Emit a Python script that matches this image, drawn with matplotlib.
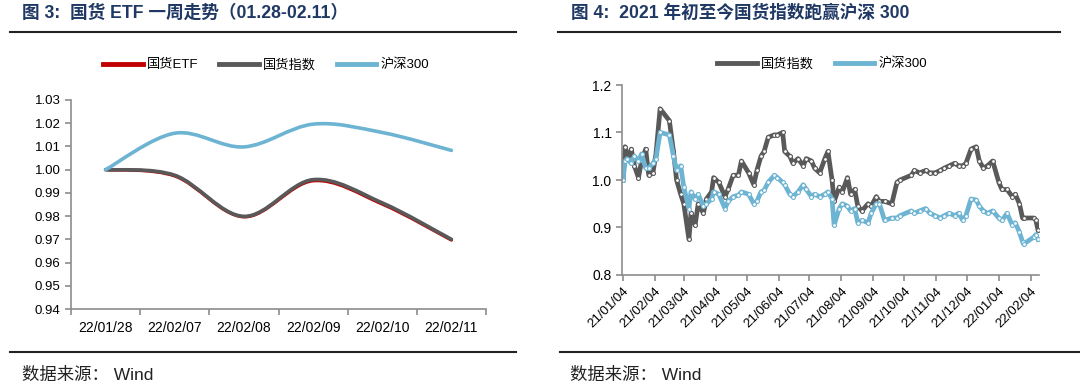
import numpy as np
import pandas as pd
import matplotlib
matplotlib.use('Agg')
import matplotlib.pyplot as plt
import matplotlib.dates as mdates
from matplotlib.path import Path
from matplotlib.patches import PathPatch
from matplotlib.lines import Line2D

plt.rcParams['font.family'] = ['Liberation Sans', 'Noto Sans CJK SC', 'DejaVu Sans']

# 图3: 一周走势
days_week = ['22/01/28', '22/02/07', '22/02/08', '22/02/09', '22/02/10', '22/02/11']
etf_week = [1.000, 0.9973, 0.9797, 0.9952, 0.9852, 0.9697]
index_week = [1.000, 0.9976, 0.9799, 0.9957, 0.9857, 0.9700]
hs300_week = [1.000, 1.0157, 1.0098, 1.0196, 1.0160, 1.0083]

# 图4: 2021 年初至今
dates_year = ['2021-01-04', '2021-01-06', '2021-01-08', '2021-01-12', '2021-01-15',
              '2021-01-19', '2021-01-22', '2021-01-26', '2021-01-29', '2021-02-02',
              '2021-02-05', '2021-02-09', '2021-02-18', '2021-02-22', '2021-02-25',
              '2021-03-01', '2021-03-04', '2021-03-09', '2021-03-11', '2021-03-15',
              '2021-03-18', '2021-03-23', '2021-03-26', '2021-03-31', '2021-04-02',
              '2021-04-07', '2021-04-13', '2021-04-16', '2021-04-21', '2021-04-26',
              '2021-04-29', '2021-05-06', '2021-05-11', '2021-05-14', '2021-05-18',
              '2021-05-21', '2021-05-25', '2021-05-31', '2021-06-03', '2021-06-08',
              '2021-06-10', '2021-06-15', '2021-06-18', '2021-06-23', '2021-06-28',
              '2021-07-01', '2021-07-06', '2021-07-09', '2021-07-14', '2021-07-19',
              '2021-07-22', '2021-07-26', '2021-07-28', '2021-08-02', '2021-08-05',
              '2021-08-10', '2021-08-13', '2021-08-17', '2021-08-20', '2021-08-24',
              '2021-08-30', '2021-09-02', '2021-09-07', '2021-09-10', '2021-09-15',
              '2021-09-22', '2021-09-27', '2021-09-30', '2021-10-11', '2021-10-14',
              '2021-10-19', '2021-10-25', '2021-10-29', '2021-11-03', '2021-11-08',
              '2021-11-12', '2021-11-17', '2021-11-22', '2021-11-26', '2021-11-30',
              '2021-12-03', '2021-12-08', '2021-12-13', '2021-12-16', '2021-12-20',
              '2021-12-24', '2021-12-29', '2022-01-04', '2022-01-07', '2022-01-12',
              '2022-01-17', '2022-01-20', '2022-01-24', '2022-01-27', '2022-01-28',
              '2022-02-07', '2022-02-09', '2022-02-11']
index_year = [1.000, 1.070, 1.045, 1.065, 1.030, 1.005, 1.040, 1.065, 1.010, 1.015,
              1.055, 1.150, 1.125, 1.060, 1.000, 0.970, 0.950, 0.875, 0.930, 0.905,
              0.950, 0.930, 0.960, 0.975, 1.005, 0.995, 0.965, 0.980, 1.010, 1.010,
              1.040, 1.015, 0.990, 1.020, 1.050, 1.060, 1.090, 1.095, 1.095, 1.100,
              1.060, 1.050, 1.035, 1.045, 1.030, 1.045, 1.040, 1.025, 1.015, 1.045,
              1.060, 1.000, 0.955, 0.985, 0.975, 1.005, 0.970, 0.980, 0.945, 0.935,
              0.950, 0.945, 0.965, 0.955, 0.955, 0.950, 0.995, 1.000, 1.010, 1.020,
              1.015, 1.020, 1.015, 1.015, 1.020, 1.025, 1.030, 1.035, 1.030, 1.030,
              1.035, 1.065, 1.070, 1.040, 1.025, 1.030, 1.040, 0.995, 0.980, 0.980,
              0.965, 0.970, 0.950, 0.920, 0.920, 0.920, 0.915, 0.895]
hs300_year = [1.000, 1.040, 1.045, 1.035, 1.050, 1.040, 1.055, 1.025, 1.025, 1.035,
              1.045, 1.100, 1.095, 1.050, 1.020, 1.030, 0.985, 0.940, 0.975, 0.960,
              0.970, 0.945, 0.950, 0.960, 0.975, 0.970, 0.940, 0.955, 0.965, 0.968,
              0.975, 0.970, 0.950, 0.955, 0.975, 0.978, 0.995, 1.010, 1.005, 0.995,
              0.990, 0.970, 0.965, 0.975, 0.990, 0.980, 0.965, 0.970, 0.965, 0.970,
              0.975, 0.960, 0.905, 0.940, 0.950, 0.945, 0.935, 0.940, 0.910, 0.915,
              0.910, 0.930, 0.950, 0.950, 0.915, 0.920, 0.920, 0.925, 0.935, 0.930,
              0.935, 0.940, 0.930, 0.925, 0.920, 0.925, 0.930, 0.925, 0.930, 0.915,
              0.925, 0.960, 0.958, 0.945, 0.935, 0.930, 0.935, 0.920, 0.915, 0.930,
              0.905, 0.910, 0.890, 0.870, 0.865, 0.880, 0.885, 0.875]

GRAY = '#595959'
BLUE = '#6db4d2'
RED = '#c00000'
NAVY = '#1f3864'
AXC = '#8c8c8c'
W, H = 1080, 388


def px(x):
    return x / W


def py(y):
    return 1 - y / H


def smooth_path(xs, ys):
    # excel 风格的平滑曲线 (贝塞尔)
    pts = np.column_stack([xs, ys]).astype(float)
    n = len(pts)
    verts = [pts[0]]
    codes = [Path.MOVETO]
    for i in range(n - 1):
        p0 = pts[max(i - 1, 0)]
        p1 = pts[i]
        p2 = pts[i + 1]
        p3 = pts[min(i + 2, n - 1)]
        verts += [p1 + (p2 - p0) / 6, p2 - (p3 - p1) / 6, p2]
        codes += [Path.CURVE4] * 3
    return Path(verts, codes)


def style_axes(ax):
    for s in ['top', 'right']:
        ax.spines[s].set_visible(False)
    for s in ['left', 'bottom']:
        ax.spines[s].set_color(AXC)
        ax.spines[s].set_linewidth(1.2)
    ax.tick_params(axis='both', which='major', direction='out', length=4,
                   color=AXC, width=1.2, labelsize=9.5, labelcolor='black')


fig = plt.figure(figsize=(W / 100, H / 100), dpi=100)

# 标题与分隔线
fig.text(px(22), py(13), '图 3:  国货 ETF 一周走势（01.28-02.11）', fontsize=12.7,
         fontweight='bold', color=NAVY, va='center', ha='left',
         family=['Liberation Sans', 'Noto Sans CJK SC'])
fig.text(px(571), py(13), '图 4:  2021 年初至今国货指数跑赢沪深 300', fontsize=12.7,
         fontweight='bold', color=NAVY, va='center', ha='left',
         family=['Liberation Sans', 'Noto Sans CJK SC'])
for x0, x1 in [(10, 516), (558, 1060)]:
    fig.add_artist(Line2D([px(x0), px(x1)], [py(32), py(32)], color='#222222', lw=1.5,
                          transform=fig.transFigure))
for x0, x1 in [(10, 516), (560, 1080)]:
    fig.add_artist(Line2D([px(x0), px(x1)], [py(352), py(352)], color='#222222', lw=1.5,
                          transform=fig.transFigure))
fig.text(px(22), py(375), '数据来源： Wind', fontsize=12.5, color='#222222', va='center')
fig.text(px(570), py(375), '数据来源： Wind', fontsize=12.5, color='#222222', va='center')

# 左图
ax1 = fig.add_axes([px(71), py(309), px(486) - px(71), py(100) - py(309)])
style_axes(ax1)
xs = np.arange(len(days_week))
for vals, c, lw in [(etf_week, RED, 2.4), (index_week, GRAY, 2.6), (hs300_week, BLUE, 2.6)]:
    ax1.add_patch(PathPatch(smooth_path(xs, vals), fill=False, edgecolor=c, lw=lw,
                            capstyle='round', joinstyle='round'))
ax1.set_xlim(-0.5, len(days_week) - 0.5)
ax1.set_ylim(0.94, 1.03)
ax1.set_yticks(np.arange(0.94, 1.0301, 0.01))
ax1.yaxis.set_major_formatter(plt.FormatStrFormatter('%.2f'))
ax1.set_xticks(np.arange(-0.5, len(days_week), 1.0))
ax1.set_xticklabels([])
ax1.set_xticks(xs, minor=True)
ax1.set_xticklabels(days_week, minor=True)
ax1.tick_params(axis='x', which='minor', length=0, labelsize=10, pad=9)

h1 = [Line2D([], [], color=RED, lw=3.5), Line2D([], [], color=GRAY, lw=3.5),
      Line2D([], [], color=BLUE, lw=3.5)]
ax1.legend(h1, ['国货ETF', '国货指数', '沪深300'], loc='center', ncol=3,
           bbox_to_anchor=(px(266), py(65)), bbox_transform=fig.transFigure,
           frameon=False, fontsize=9.5, handlelength=3.0, handletextpad=0.3,
           columnspacing=1.6)

# 右图
ax2 = fig.add_axes([px(622), py(275), px(1039) - px(622), py(85) - py(275)])
style_axes(ax2)
d = pd.to_datetime(dates_year)
ax2.plot(d, index_year, color=GRAY, lw=3.4, marker='o', ms=2.8, mfc='white',
         mec=GRAY, mew=0.8, solid_joinstyle='round')
ax2.plot(d, hs300_year, color=BLUE, lw=3.4, marker='o', ms=2.8, mfc='white',
         mec=BLUE, mew=0.8, solid_joinstyle='round')
ax2.set_xlim(pd.Timestamp('2021-01-03'), pd.Timestamp('2022-02-12'))
ax2.set_ylim(0.8, 1.2)
ax2.set_yticks([0.8, 0.9, 1.0, 1.1, 1.2])
ax2.yaxis.set_major_formatter(plt.FormatStrFormatter('%.1f'))
ax2.tick_params(axis='y', labelsize=10)
ax2.xaxis.set_major_locator(mdates.MonthLocator(bymonthday=4))
ax2.xaxis.set_major_formatter(mdates.DateFormatter('%y/%m/%d'))
plt.setp(ax2.get_xticklabels(), rotation=45, ha='right', rotation_mode='anchor',
         fontsize=9.5)

h2 = [Line2D([], [], color=GRAY, lw=3.5), Line2D([], [], color=BLUE, lw=3.5)]
ax2.legend(h2, ['国货指数', '沪深300'], loc='center', ncol=2,
           bbox_to_anchor=(px(822), py(64)), bbox_transform=fig.transFigure,
           frameon=False, fontsize=9.5, handlelength=3.0, handletextpad=0.3,
           columnspacing=1.6)

fig.savefig('out.png', dpi=100)
